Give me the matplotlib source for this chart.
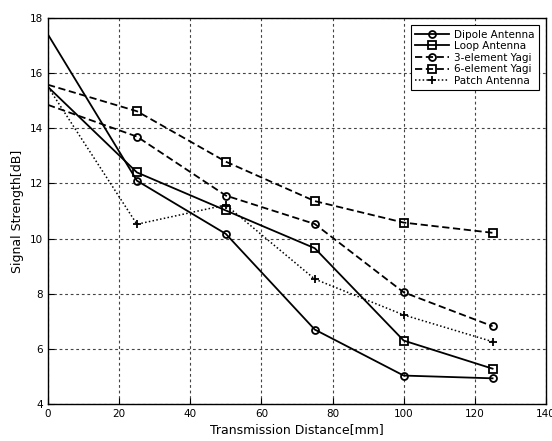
import matplotlib
matplotlib.use("Agg")
import matplotlib.pyplot as plt

distance = [0, 25, 50, 75, 100, 125]
dipole = [17.4, 12.1, 10.17, 6.7, 5.03, 4.93]
loop = [15.5, 12.4, 11.02, 9.65, 6.3, 5.28]
yagi3 = [14.85, 13.7, 11.56, 10.53, 8.05, 6.82]
yagi6 = [15.58, 14.62, 12.79, 11.36, 10.58, 10.21]
patch = [15.5, 10.52, 11.22, 8.53, 7.23, 6.26]

labels = ["Dipole Antenna", "Loop Antenna", "3-element Yagi", "6-element Yagi", "Patch Antenna"]
series = [dipole, loop, yagi3, yagi6, patch]
styles = ["-", "-", (0, (4, 2)), (0, (4, 2)), (0, (1, 1.5))]
markers = ["o", "s", "o", "s", "+"]
msizes = [5, 6, 5, 6, 6]
lwidths = [1.3, 1.3, 1.3, 1.3, 1.1]

plt.rcParams['font.family'] = ['DejaVu Sans']
fig = plt.figure(figsize=(5.52, 4.41), dpi=100)
ax = fig.add_axes([0.087, 0.084, 0.902, 0.875])

for y, lab, ls, mk, ms, lw in zip(series, labels, styles, markers, msizes, lwidths):
    ax.plot(distance, y, linestyle=ls, marker=mk, markersize=ms, color='black',
            markerfacecolor='none', markeredgewidth=1.3, linewidth=lw, label=lab,
            markevery=list(range(1, len(distance))))

ax.set_xlim(0, 140)
ax.set_ylim(4, 18)
ax.set_xticks(range(0, 141, 20))
ax.set_yticks(range(4, 19, 2))
ax.grid(True, linestyle=(0, (2.5, 2.5)), color='#444444', linewidth=0.8)
ax.tick_params(direction='in', labelsize=7.5, length=4)
for s in ax.spines.values():
    s.set_linewidth(1.0)

ax.set_xlabel("Transmission Distance[mm]", fontsize=9, labelpad=3)
ax.set_ylabel("Signal Strength[dB]", fontsize=9)

leg = ax.legend(loc='upper right', fontsize=7.5, frameon=True, fancybox=False,
                edgecolor='black', framealpha=1, handlelength=3.2,
                borderaxespad=0.7, labelspacing=0.15, handletextpad=0.5)
leg.get_frame().set_linewidth(0.8)

fig.savefig("out.png", dpi=100)
